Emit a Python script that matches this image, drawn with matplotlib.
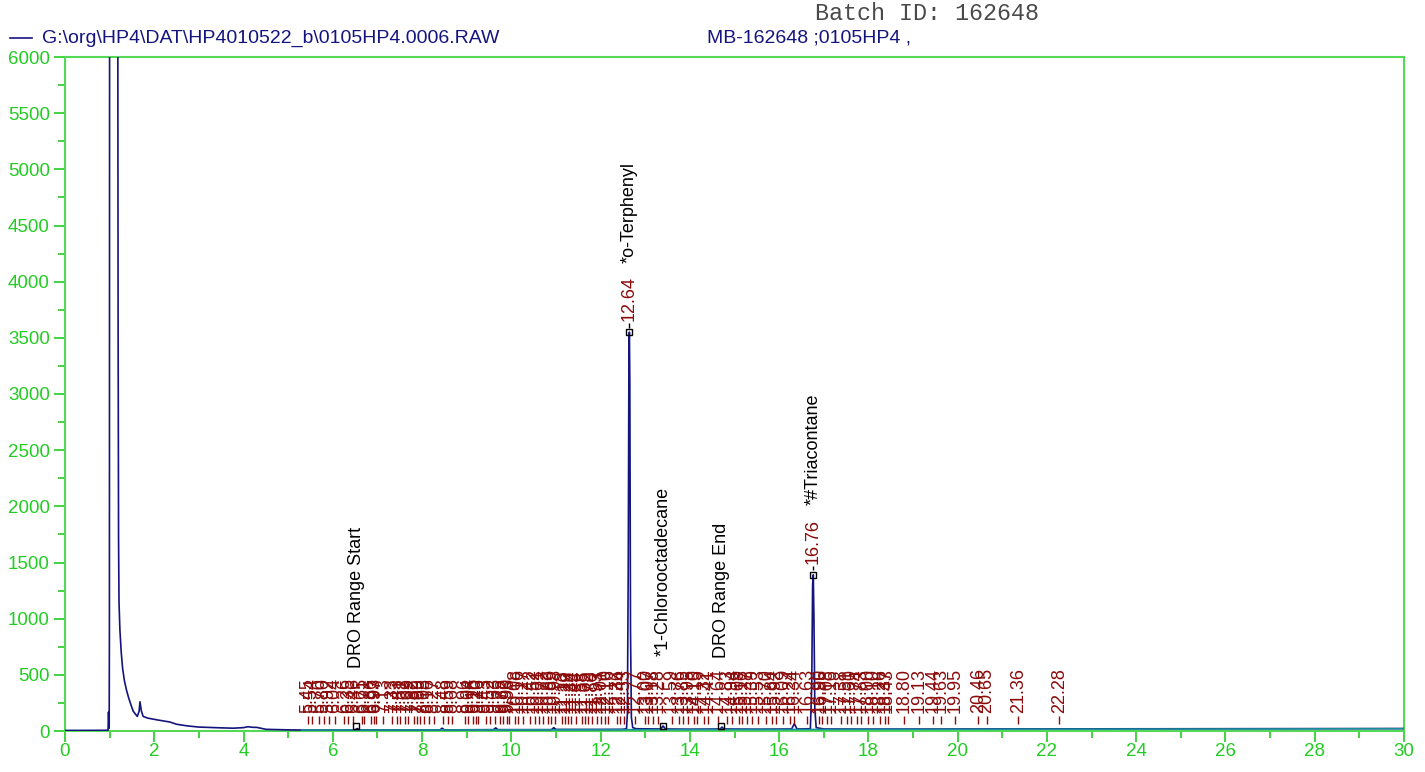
import matplotlib
matplotlib.use("Agg")
import matplotlib.pyplot as plt
from matplotlib.ticker import MultipleLocator

# ---------------- data ----------------
sig_t = [0.00, 0.90, 0.965, 0.975, 0.985, 0.99, 0.995, 1.00, 1.18, 1.19, 1.20, 1.21,
         1.23, 1.26, 1.29, 1.33, 1.38, 1.43, 1.48, 1.53, 1.58, 1.62, 1.66, 1.68, 1.71,
         1.75, 1.85, 2.05, 2.35, 2.50, 2.75, 3.00, 3.50, 3.77, 4.00, 4.10, 4.20, 4.30,
         4.50, 5.00, 5.50, 6.00, 6.50, 6.55, 6.60, 7.50, 8.40, 8.45, 8.50, 9.60, 9.65,
         9.70, 10.90, 10.95, 11.00, 12.00, 12.50, 12.58, 12.60, 12.62, 12.635, 12.645,
         12.655, 12.67, 12.69, 12.72, 12.80, 13.35, 13.40, 13.45, 14.00, 14.68, 14.72,
         14.76, 15.50, 16.28, 16.34, 16.40, 16.70, 16.73, 16.75, 16.765, 16.78, 16.80,
         16.83, 17.00, 18.00, 20.00, 25.00, 30.00]
sig_y = [5, 6, 8, 170, 40, 25, 900, 7500, 7500, 3600, 1700, 1150,
         900, 700, 560, 450, 360, 290, 230, 175, 150, 130, 175, 260, 180,
         130, 115, 100, 80, 60, 45, 35, 28, 25, 30, 38, 33, 32,
         15, 10, 8, 8, 10, 22, 10, 10, 10, 25, 10, 12, 28,
         12, 12, 30, 14, 14, 15, 20, 150, 1500, 3400, 3550,
         3100, 900, 120, 30, 20, 18, 45, 18, 16, 18, 35,
         18, 16, 18, 65, 18, 20, 400, 1300, 1390, 1000, 200,
         30, 18, 17, 18, 20, 22]

base_t = [5.30, 30.00]
base_y = [8, 20]

peak_rts = [5.45, 5.54, 5.70, 5.80, 5.92, 6.04, 6.26, 6.35, 6.46, 6.65, 6.71, 6.86,
            6.93, 6.97, 7.13, 7.33, 7.43, 7.51, 7.62, 7.69, 7.82, 7.89, 7.95, 8.05,
            8.16, 8.27, 8.48, 8.59, 8.68, 8.96, 9.04, 9.15, 9.20, 9.26, 9.43, 9.52,
            9.63, 9.75, 9.82, 9.90, 9.95, 10.08, 10.16, 10.27, 10.42, 10.52, 10.61,
            10.72, 10.83, 10.89, 10.98, 11.13, 11.20, 11.28, 11.34, 11.44, 11.58,
            11.65, 11.72, 11.80, 11.93, 12.01, 12.10, 12.16, 12.36, 12.44, 12.53,
            12.77, 13.00, 13.07, 13.18, 13.28, 13.59, 13.76, 13.85, 13.95, 14.10,
            14.15, 14.32, 14.41, 14.64, 14.83, 14.94, 15.09, 15.16, 15.27, 15.39,
            15.53, 15.70, 15.84, 15.92, 16.09, 16.24, 16.34, 16.63, 16.90, 16.95,
            17.08, 17.16, 17.38, 17.51, 17.60, 17.74, 17.83, 18.00, 18.10, 18.26,
            18.37, 18.43, 18.80, 19.13, 19.44, 19.63, 19.95, 20.46, 20.65, 21.36,
            22.28]

named_rts = [12.64, 16.76]
named_heights = [3550, 1390]
named_names = ["*o-Terphenyl", "*#Triacontane"]

marker_rts = [6.52, 13.40, 14.70]
marker_names = ["DRO Range Start", "*1-Chlorooctadecane", "DRO Range End"]
marker_text_y = [560, 670, 650]

x_ticks = list(range(0, 31, 2))
y_ticks = list(range(0, 6001, 500))

# ---------------- styles ----------------
GREEN_FRAME = "#55d855"
GREEN_TXT = "#22cc22"
NAVY = "#14147f"
DRED = "#8b0a0a"
TEAL = "#1a8c9c"
FONT = ["Liberation Sans", "DejaVu Sans"]

plt.rcParams["font.family"] = FONT

fig = plt.figure(figsize=(14.25, 7.72), dpi=100)
ax = fig.add_axes([65 / 1425, 1 - 731 / 772, (1404 - 65) / 1425, (731 - 57) / 772])

ax.plot(sig_t, sig_y, color=NAVY, lw=1.2, zorder=3)
ax.plot(base_t, base_y, color=TEAL, lw=1.2, zorder=4)

ax.set_xlim(0, 30)
ax.set_ylim(0, 6000)

# small peak labels
ax.vlines(peak_rts, 62, 130, color=DRED, lw=1.0, zorder=5)
for rt in peak_rts:
    ax.text(rt, 160, f"{rt:.2f}", rotation=90, ha="center", va="bottom",
            color=DRED, fontsize=13, zorder=6)

# named peaks
for rt, h, nm in zip(named_rts, named_heights, named_names):
    ax.plot([rt], [h], marker="s", ms=4.5, mfc="none", mec="black", mew=1.0, zorder=7)
    ax.vlines([rt], h + 40, h + 80, color="black", lw=1.0, zorder=7)
    ax.text(rt, h + 100, f"{rt:.2f}", rotation=90, ha="center", va="bottom",
            color=DRED, fontsize=13, zorder=7)
    ax.text(rt, h + 620, nm, rotation=90, ha="center", va="bottom",
            color="black", fontsize=13, zorder=7)

# range / internal markers
for rt, nm, ty in zip(marker_rts, marker_names, marker_text_y):
    ax.plot([rt], [45], marker="s", ms=4.5, mfc="none", mec="black", mew=1.0, zorder=7)
    ax.text(rt, ty, nm, rotation=90, ha="center", va="bottom",
            color="black", fontsize=13, zorder=7)

# axes styling
for sp in ax.spines.values():
    sp.set_color(GREEN_FRAME)
    sp.set_linewidth(1.5)
ax.set_xticks(x_ticks)
ax.set_yticks(y_ticks)
ax.xaxis.set_minor_locator(MultipleLocator(1))
ax.yaxis.set_minor_locator(MultipleLocator(250))
ax.tick_params(axis="both", which="major", direction="out", color=GREEN_TXT,
               labelcolor=GREEN_TXT, labelsize=13.5, length=8, width=1.2)
ax.tick_params(axis="both", which="minor", direction="out", color=GREEN_TXT,
               length=5, width=1.2)
ax.tick_params(axis="x", pad=1)
ax.tick_params(axis="y", pad=3)

# header texts
fig.text(815 / 1425, 1 - 14 / 772, "Batch ID: 162648",
         family=["Liberation Mono", "DejaVu Sans Mono"],
         fontsize=16.8, color="#4a4a4a", ha="left", va="center")
fig.lines.append(plt.Line2D([10 / 1425, 32 / 1425], [1 - 38 / 772, 1 - 38 / 772],
                            transform=fig.transFigure, color=NAVY, lw=1.2))
fig.text(42 / 1425, 1 - 38 / 772, r"G:\org\HP4\DAT\HP4010522_b\0105HP4.0006.RAW",
         fontsize=14, color=NAVY, ha="left", va="center")
fig.text(707 / 1425, 1 - 38 / 772, "MB-162648 ;0105HP4 ,",
         fontsize=14, color=NAVY, ha="left", va="center")

fig.savefig("out.png", dpi=100)
